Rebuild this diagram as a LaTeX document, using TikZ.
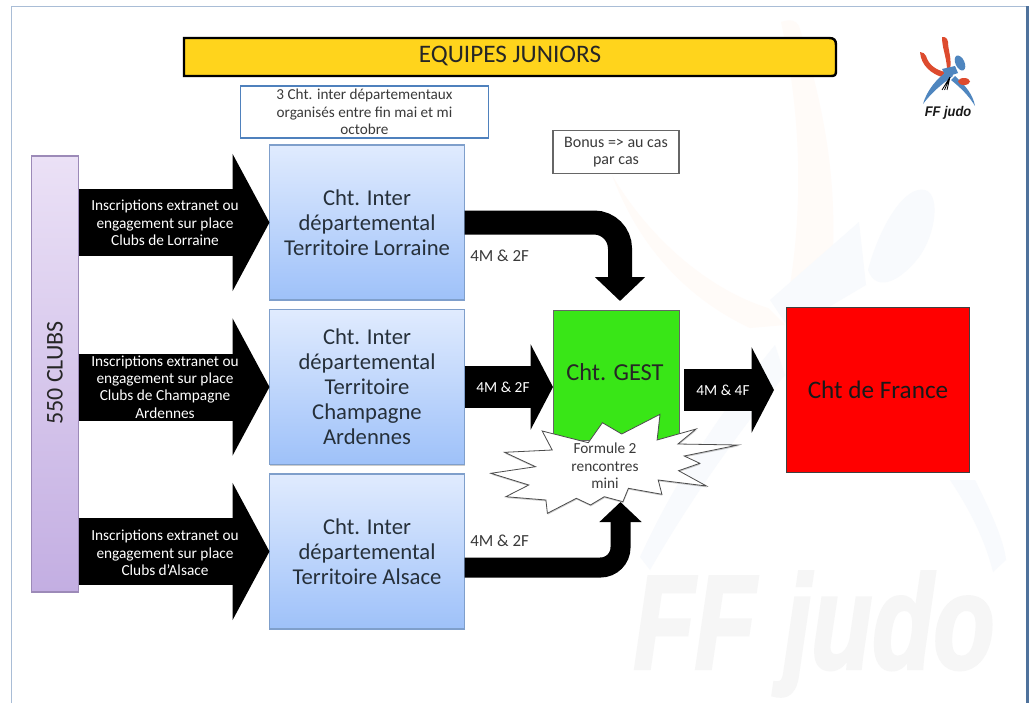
\documentclass[tikz,border=0pt]{standalone}
\usepackage{fontspec}
\setmainfont{Carlito}
\newfontfamily\wmfont{Liberation Sans}
\newfontfamily\wmheavy[BoldItalicFeatures={FakeBold=2.5}]{Liberation Sans}
\usetikzlibrary{arrows.meta,calc,shadows,positioning}
\def\u{0.75pt}
\definecolor{framec}{HTML}{A9BDD6}
\definecolor{framed}{HTML}{4F729C}
\definecolor{notec}{HTML}{4F81BD}
\definecolor{txt}{HTML}{3A3A3A}
\definecolor{boxtxt}{HTML}{26303A}
\definecolor{wmo}{HTML}{FFFBF8}
\definecolor{wmb}{HTML}{F8FAFD}
\definecolor{wmg}{HTML}{F6F6F6}
\definecolor{ffred}{HTML}{DD4B2E}
\definecolor{ffblue}{HTML}{4F86BF}
\definecolor{boxtop}{HTML}{E0EBFE}
\definecolor{boxbot}{HTML}{9EC1F9}
\definecolor{boxline}{HTML}{7F9FCB}
\definecolor{clubtop}{HTML}{EBE1F6}
\definecolor{clubbot}{HTML}{C3AEE2}
\definecolor{clubline}{HTML}{9C8AB8}
\definecolor{titlefill}{HTML}{FFD41C}
\definecolor{gestfill}{HTML}{39E617}
\tikzset{
  softshadow/.style={drop shadow={shadow xshift=0.3pt,shadow yshift=-1pt,opacity=.2,fill=black}},
  smalltxt/.style={font=\fontsize{11.5}{13}\selectfont,align=center,inner sep=0pt},
  terbox/.style={rectangle,inner sep=0pt,outer sep=0pt,minimum width=195*\u,minimum height=155*\u,
    top color=boxtop,bottom color=boxbot,draw=boxline,line width=0.8pt,
    softshadow,text=boxtxt,font=\fontsize{17}{18.75}\selectfont,align=center},
  inarrow/.style={line width=67*\u,-{Triangle[length=37*\u,width=136*\u]}},
  midarrow/.style={line width=42*\u,-{Triangle[length=22.5*\u,width=85*\u]}},
  toparrow/.style={line width=24*\u,rounded corners=26*\u,-{Triangle[length=24*\u,width=49*\u]}},
  botarrow/.style={line width=20*\u,rounded corners=20*\u,-{Triangle[length=20*\u,width=41*\u]}},
}
\begin{document}
\begin{tikzpicture}[x=0.75pt,y=-0.75pt]
\useasboundingbox (0,0) rectangle (1031,703);
\fill[white] (0,0) rectangle (1031,703);
% faint watermark
\fill[wmo] (781,22) .. controls (790,19) and (796,20) .. (799,26) .. controls (822,100) and (836,170) .. (833,250) -- (790,285) .. controls (805,190) and (798,100) .. (781,22) -- cycle;
\fill[wmo] (612,175) .. controls (650,240) and (710,290) .. (768,308) -- (785,325) -- (750,328) .. controls (690,300) and (640,250) .. (612,175) -- cycle;
\fill[wmb] (868,270) .. controls (880,225) and (905,185) .. (925,190) .. controls (942,195) and (935,240) .. (915,262) .. controls (895,285) and (875,290) .. (868,270) -- cycle;
\fill[wmb] (770,300) -- (859,222) -- (866,285) -- (790,330) -- cycle;
\fill[wmb] (640,557) .. controls (680,470) and (730,400) .. (775,345) -- (785,375) .. controls (740,430) and (690,500) .. (650,570) -- cycle;
\fill[wmb] (975,480) .. controls (990,510) and (1004,540) .. (1006,560) -- (993,572) .. controls (985,540) and (970,510) .. (950,480) -- cycle;
\node[text=wmg,font=\wmheavy\bfseries\itshape\fontsize{100}{100}\selectfont,inner sep=0pt,xscale=0.75] (wm) at (814,634) {FF judo};
% frame
\draw[framec,line width=1pt] (11.5,703) -- (11.5,6.5) -- (1027,6.5);
\draw[framed,line width=1.6pt] (1027.5,6) -- (1027.5,703);
% title
\draw[black,line width=1.8pt,fill=titlefill] (184,38) -- (829,38) .. controls (834,38) and (836,40) .. (836,45) -- (836,71) .. controls (836,75) and (835,76) .. (831,76) -- (184,76) -- cycle;
\node[font=\fontsize{18.9}{20}\selectfont,text=black!85,inner sep=0pt] (title) at (510,56) {EQUIPES JUNIORS};
% note
\node[draw=notec,line width=1.4pt,fill=white,text=txt,inner sep=0pt,minimum width=248*\u,minimum height=52*\u,outer sep=0pt,
  font=\fontsize{11.4}{13}\selectfont,align=center] (note) at (364.5,112) {3 Cht. inter départementaux\\organisés entre fin mai et mi\\octobre};
% clubs
\node[rectangle,inner sep=0pt,outer sep=0pt,minimum width=47*\u,minimum height=436*\u,top color=clubtop,bottom color=clubbot,draw=clubline,line width=0.8pt,softshadow] (clubs) at (55,374) {};
\node[rotate=90,font=\fontsize{18}{20}\selectfont,text=black!85,inner sep=0pt] (clubst) at (55,373) {550 CLUBS};
% territory boxes
\node[terbox] (lor) at (367,222.5) {Cht. Inter\\départemental\\Territoire Lorraine};
\node[terbox] (cha) at (367,387) {Cht. Inter\\départemental\\Territoire\\Champagne\\Ardennes};
\node[terbox] (als) at (367,551.5) {Cht. Inter\\départemental\\Territoire Alsace};
% bonus
\node[draw=black!60,line width=0.8pt,fill=white,text=txt,inner sep=0pt,outer sep=0pt,minimum width=126*\u,minimum height=43*\u,
  font=\fontsize{12}{13}\selectfont,align=center] (bonus) at (616,152) {Bonus => au cas\\par cas};
% gest and france
\node[rectangle,draw=black!60,fill=gestfill,line width=0.7pt,inner sep=0pt,outer sep=0pt,minimum width=126*\u,minimum height=130*\u,anchor=north] (gest) at (616,310) {};
\node[font=\fontsize{18.3}{20}\selectfont,text=black!85,inner sep=0pt] (gestt) at (615,372) {Cht. GEST};
\node[rectangle,draw=black!75,fill=red,line width=0.7pt,inner sep=0pt,outer sep=0pt,minimum width=183*\u,minimum height=165*\u,
  font=\fontsize{18.9}{20}\selectfont,text=black!90] (fra) at (878,389.5) {Cht de France};
% in arrows
\draw[inarrow] (clubs.east |- lor.west) -- (lor.west);
\draw[inarrow] (clubs.east |- cha.west) -- (cha.west);
\draw[inarrow] (clubs.east |- als.west) -- (als.west);
\node[smalltxt,text=white] (t1) at (165,223) {Inscriptions extranet ou\\engagement sur place\\Clubs de Lorraine};
\node[smalltxt,text=white] (t2) at (165,387) {Inscriptions extranet ou\\engagement sur place\\Clubs de Champagne\\Ardennes};
\node[smalltxt,text=white] (t3) at (165,553) {Inscriptions extranet ou\\engagement sur place\\Clubs d’Alsace};
% mid arrows
\draw[midarrow] (cha.east) -- (cha.east -| gest.west);
\node[smalltxt,text=white] (m1) at (503,387) {4M \& 2F};
\coordinate (f1) at (684,390);
\coordinate (f2) at (774,390);
\draw[midarrow] (f1) -- (f2);
\node[smalltxt,text=white] (m2) at (723,390) {4M \& 4F};
% curved arrows
\coordinate (topend) at (620,301);
\draw[toparrow] (lor.east) -| (topend);
\coordinate (botstart) at ($(als.east)+(0,16)$);
\coordinate (botend) at (620.5,502);
\draw[botarrow] (botstart) -| (botend);
\node[font=\fontsize{12.7}{14}\selectfont,inner sep=0pt,text=txt,anchor=west] (l1) at (470,256) {4M \& 2F};
\node[font=\fontsize{12.7}{14}\selectfont,inner sep=0pt,text=txt,anchor=west] (l2) at (470,541) {4M \& 2F};
% burst
\draw[fill=white,draw=black!70,line width=0.6pt,softshadow]
 (542.2,431) -- (552.2,450) -- (504.6,452.3) -- (535.5,466.7) -- (490.9,473.3) -- (528.8,485) -- (505.8,496.7)
 -- (545.9,500) -- (547.4,513.3) -- (576.4,498.3) -- (590.5,505) -- (604.3,496.7) -- (622.9,501.7) -- (628.4,488.3)
 -- (661.9,494.3) -- (658.2,480) -- (706.5,486) -- (678.6,470.7) -- (699.8,463.3) -- (684.2,456) -- (738.1,445)
 -- (677.9,444) -- (696.1,429) -- (657.1,440) -- (660,414.3) -- (621.7,434) -- (602.4,422.7) -- (588.3,442.7) -- cycle;
\node[smalltxt,text=txt] (form) at (605,466) {Formule 2\\rencontres\\mini};
% logo
\fill[ffred] (942,37) .. controls (946,37) and (947,38) .. (948,42) .. controls (948,50) and (952,58) .. (950,70) -- (947,68) .. controls (946,55) and (942,48) .. (942,37) -- cycle;
\fill[ffred] (920,52) .. controls (923,52) and (925,54) .. (926,56) .. controls (929,66) and (937,70) .. (945,72) -- (942,77) .. controls (932,74) and (921,66) .. (920,52) -- cycle;
\fill[ffblue] (960,63) ellipse[x radius=4.5,y radius=8,rotate=25];
\fill[ffblue] (942,69) -- (955,66) -- (958,73) -- (946,77) -- cycle;
\fill[ffblue] (923,104) .. controls (927,90) and (937,78) .. (949,70) -- (953,76) .. controls (942,84) and (932,92) .. (923,104) -- cycle;
\fill[ffblue] (951,80) -- (955,76) .. controls (966,86) and (973,95) .. (975,106) .. controls (969,96) and (961,88) .. (951,80) -- cycle;
\fill[ffred] (964,81.5) ellipse[x radius=6,y radius=3.5];
\draw[black,line width=0.6pt] (950,77) -- (942,90) (950,77) -- (947,90) (950,77) -- (944.5,90);
\node[font=\wmfont\bfseries\itshape\fontsize{10.5}{12}\selectfont,inner sep=0pt,xscale=0.92,text=black!90] (logo) at (948,113) {FF judo};
\end{tikzpicture}
\end{document}
